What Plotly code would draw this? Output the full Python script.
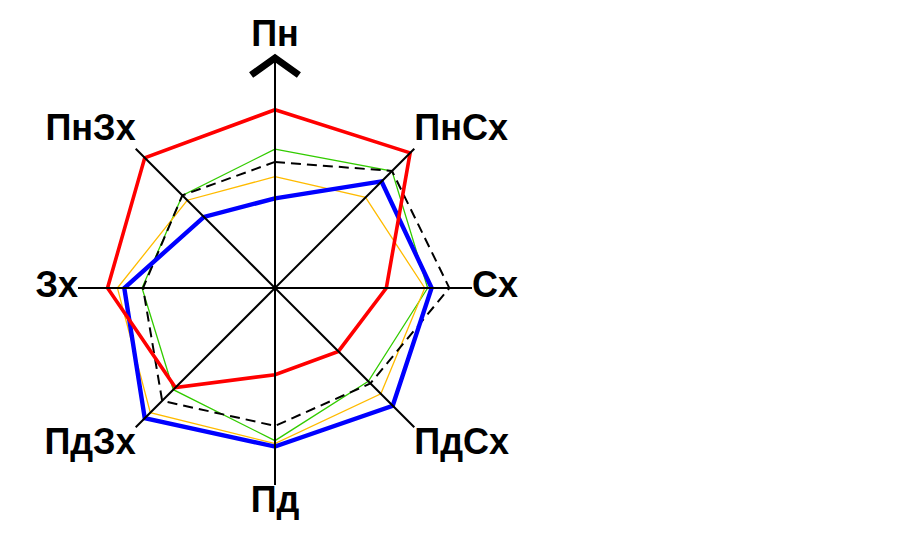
import plotly.graph_objects as go

# Wind directions (clockwise from north) and their angles in degrees
directions = ["Пн", "ПнСх", "Сх", "ПдСх", "Пд", "ПдЗх", "Зх", "ПнЗх"]
angles = [0, 45, 90, 135, 180, 225, 270, 315]

# Series values (same order as directions); axis length = 20 units
red_vals = [18.1, 19.4, 11.3, 9.1, 8.8, 14.3, 17.0, 18.7]
blue_vals = [9.1, 15.3, 15.9, 16.9, 16.1, 18.7, 15.3, 10.2]
dashed_vals = [12.8, 16.8, 17.7, 13.7, 14.0, 16.2, 13.4, 13.3]
green_vals = [14.1, 16.8, 15.5, 13.4, 15.5, 14.6, 13.5, 13.3]
orange_vals = [11.3, 13.0, 15.2, 15.2, 15.8, 17.9, 16.0, 12.6]

axis_len = 20
north_len = 23.35
arrow_arm_r = 21.76
arrow_arm_angle = 6.4
radial_max = 25

fig = go.Figure()

def closed(vals):
    return vals + [vals[0]], angles + [angles[0]]

series = [
    (green_vals, "#33cc00", 1.3, "solid"),
    (orange_vals, "#ffbb00", 1.3, "solid"),
    (dashed_vals, "#000000", 2.0, "10px,6px"),
    (blue_vals, "#0000ff", 4.4, "solid"),
    (red_vals, "#ff0000", 3.6, "solid"),
]
for vals, color, width, dash in series:
    r, th = closed(vals)
    fig.add_trace(go.Scatterpolar(
        r=r, theta=th, mode="lines",
        line=dict(color=color, width=width, dash=dash),
        showlegend=False, hoverinfo="skip"))

# spokes (axes)
sr, st = [], []
for a in angles:
    sr += [0, north_len if a == 0 else axis_len, None]
    st += [a, a, None]
fig.add_trace(go.Scatterpolar(
    r=sr, theta=st, mode="lines", line=dict(color="black", width=2),
    cliponaxis=False, showlegend=False, hoverinfo="skip"))

# north arrow head
fig.add_trace(go.Scatterpolar(
    r=[arrow_arm_r, north_len, arrow_arm_r],
    theta=[360 - arrow_arm_angle, 0, arrow_arm_angle],
    mode="lines", line=dict(color="black", width=7),
    cliponaxis=False, showlegend=False, hoverinfo="skip"))

# direction labels
label_r = [23.7, axis_len, axis_len, axis_len, axis_len, axis_len, axis_len, axis_len]
positions = ["top center", "top right", "middle right", "bottom right",
             "bottom center", "bottom left", "middle left", "top left"]
fig.add_trace(go.Scatterpolar(
    r=label_r, theta=angles, mode="text", text=directions,
    textposition=positions,
    textfont=dict(family="Liberation Sans, Arial, sans-serif", size=36,
                  color="black", weight="bold"),
    cliponaxis=False, showlegend=False, hoverinfo="skip"))

W, H = 920, 547
cx, cy = 267, 280
rad = 9.85 * radial_max

fig.update_layout(
    width=W, height=H,
    margin=dict(l=0, r=0, t=0, b=0),
    paper_bgcolor="white",
    polar=dict(
        domain=dict(x=[(cx - rad) / W, (cx + rad) / W],
                    y=[(H - cy - rad) / H, (H - cy + rad) / H]),
        bgcolor="rgba(0,0,0,0)",
        radialaxis=dict(visible=False, range=[0, radial_max], showgrid=False),
        angularaxis=dict(type="linear", rotation=90, direction="clockwise",
                         thetaunit="degrees", showgrid=False, showline=False,
                         showticklabels=False, ticks=""),
    ),
)

fig.write_html("out.html")
